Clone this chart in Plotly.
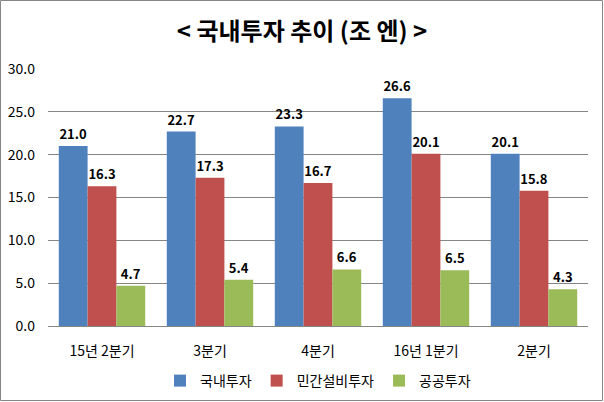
import plotly.graph_objects as go

categories = ["15년 2분기", "3분기", "4분기", "16년 1분기", "2분기"]
domestic = [21.0, 22.7, 23.3, 26.6, 20.1]
private_capex = [16.3, 17.3, 16.7, 20.1, 15.8]
public = [4.7, 5.4, 6.6, 6.5, 4.3]
series_names = ["국내투자", "민간설비투자", "공공투자"]
colors = ["#4F81BD", "#C0504D", "#9BBB59"]

FONT = "Noto Sans CJK KR"

fig = go.Figure()
for name, vals, col in zip(series_names, [domestic, private_capex, public], colors):
    fig.add_trace(go.Bar(
        x=categories, y=vals, name=name,
        marker=dict(color=col, line=dict(width=0)),
        text=[f"{v:.1f}" for v in vals], textposition="outside",
        textfont=dict(family=FONT, size=13, color="#000000", weight="bold"),
        cliponaxis=False,
    ))

W, H = 604, 402
l, r, t, b = 48, 16, 69, 76
pw, ph = W - l - r, H - t - b

fig.update_layout(
    width=W, height=H,
    margin=dict(l=l, r=r, t=t, b=b, autoexpand=False),
    paper_bgcolor="white", plot_bgcolor="white",
    barmode="group", bargap=0.2, bargroupgap=0,
    font=dict(family=FONT, size=13, color="#000000"),
    title=dict(text="< 국내투자 추이 (조 엔) >", x=0.5, xanchor="center",
               y=1 - 32 / H, yanchor="middle",
               font=dict(family=FONT, size=24, color="#000000", weight="bold")),
    yaxis=dict(range=[0, 30], dtick=5, tickformat=".1f", showgrid=True,
               gridcolor="#868686", gridwidth=1, zeroline=False,
               showline=False, ticks="", ticklen=0, ticklabelstandoff=12,
               automargin=False,
               tickfont=dict(family=FONT, size=14, color="#000000")),
    xaxis=dict(showline=True, linecolor="#868686", linewidth=1, ticks="",
               ticklabelstandoff=12, automargin=False,
               tickfont=dict(family=FONT, size=14, color="#000000")),
    legend=dict(orientation="h", x=0.5, xanchor="center", y=-(381 - 326) / ph,
                yanchor="middle", font=dict(family=FONT, size=14, color="#000000"),
                itemwidth=30, traceorder="normal"),
)

fig.add_shape(type="rect", xref="paper", yref="paper",
              x0=-(l - 0.5) / pw, x1=1 + (r - 1.5) / pw,
              y0=-(b - 1.5) / ph, y1=1 + (t - 0.5) / ph,
              line=dict(color="#868686", width=1), fillcolor="rgba(0,0,0,0)", layer="above")

fig.write_html("out.html")
